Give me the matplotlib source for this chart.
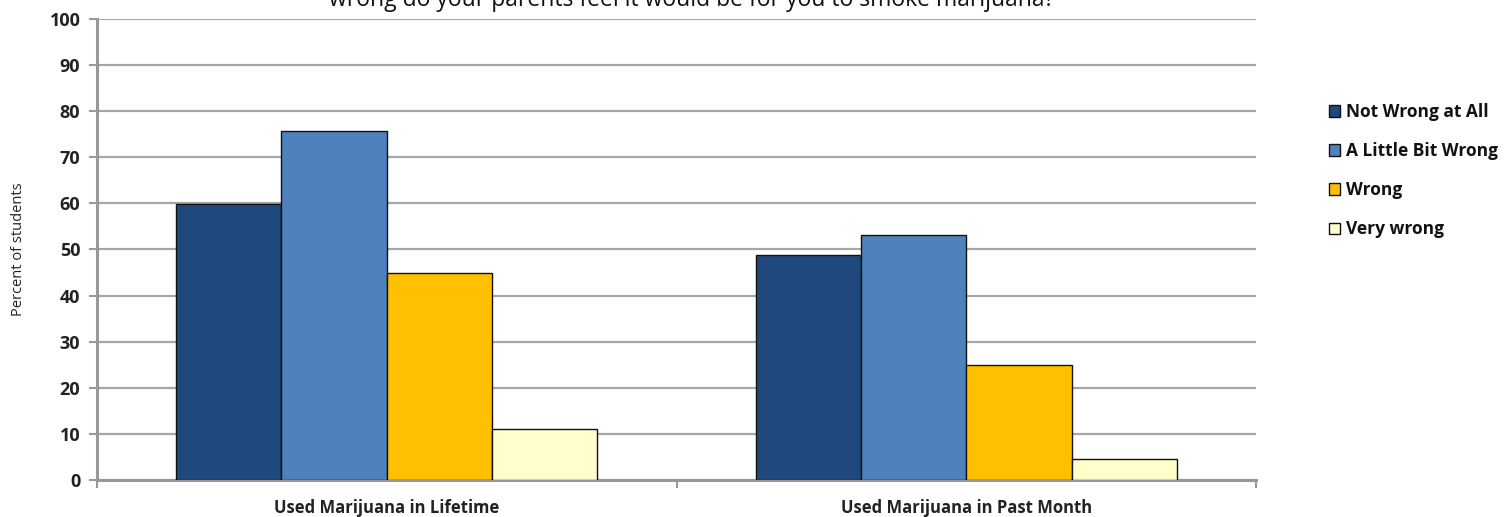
import matplotlib
matplotlib.use("Agg")
import matplotlib.pyplot as plt
import numpy as np

plt.rcParams["font.family"] = ["Open Sans", "DejaVu Sans"]

categories = ["Used Marijuana in Lifetime", "Used Marijuana in Past Month"]
series_names = ["Not Wrong at All", "A Little Bit Wrong", "Wrong", "Very wrong"]
not_wrong = [59.9, 48.8]
little_wrong = [75.7, 53.2]
wrong = [45.0, 25.0]
very_wrong = [11.0, 4.5]
y_ticks = [0, 10, 20, 30, 40, 50, 60, 70, 80, 90, 100]
title = "wrong do your parents feel it would be for you to smoke marijuana?"

colors = ["#1F497D", "#4F81BD", "#FFC000", "#FFFFCC"]
values = [not_wrong, little_wrong, wrong, very_wrong]

fig = plt.figure(figsize=(15.12, 5.17), dpi=100)
ax = fig.add_axes([97 / 1512, 37 / 517, (1256 - 97) / 1512, (498 - 37) / 517])

x = np.arange(len(categories))
bar_w = 1 / 5.5  # 150% gap width
offsets = (np.arange(4) - 1.5) * bar_w
handles = []
for vals, off, col, name in zip(values, offsets, colors, series_names):
    h = ax.bar(x + off, vals, width=bar_w, color=col, edgecolor="#111111",
               linewidth=1.0, label=name, zorder=3)
    handles.append(h)

ax.set_xlim(-0.5, 1.5)
ax.set_ylim(0, 100)
ax.set_yticks(y_ticks)
ax.set_yticklabels([str(t) for t in y_ticks], fontsize=13, fontweight="bold",
                   color="#222222")
ax.set_xticks([-0.5, 0.5, 1.5])
ax.set_xticklabels([])
ax.set_xticks(x, minor=True)
ax.set_xticklabels(categories, minor=True, fontsize=12, fontweight="bold",
                   color="#222222")
ax.tick_params(axis="x", which="minor", length=0, pad=14)
ax.tick_params(axis="x", which="major", length=6, width=1.5, color="#999999")
ax.tick_params(axis="y", length=6, width=1.5, color="#999999", pad=6)

ax.yaxis.grid(True, color="#A6A6A6", linewidth=1.6, zorder=0)
ax.set_axisbelow(True)
for side in ["top", "right"]:
    ax.spines[side].set_visible(False)
ax.spines["left"].set_color("#999999")
ax.spines["left"].set_linewidth(2.2)
ax.spines["bottom"].set_color("#999999")
ax.spines["bottom"].set_linewidth(2.2)

ax.set_ylabel("Percent of students", fontsize=10.5, color="#222222")
ax.yaxis.set_label_coords(-0.061, 0.5)

# title sits partly above the canvas edge
fig.text(692 / 1512, 1 - 6 / 517, title, ha="center", va="baseline",
         fontsize=16.5, color="#111111")

leg = fig.legend(handles=handles, labels=series_names, loc="upper left",
                 bbox_to_anchor=(1322 / 1512, 1 - 96 / 517), frameon=False,
                 fontsize=12.5, handlelength=0.65, handleheight=0.65,
                 handletextpad=0.35, labelspacing=1.22, borderaxespad=0)
for t in leg.get_texts():
    t.set_fontweight("bold")
    t.set_color("#111111")

fig.savefig("out.png", dpi=100)
